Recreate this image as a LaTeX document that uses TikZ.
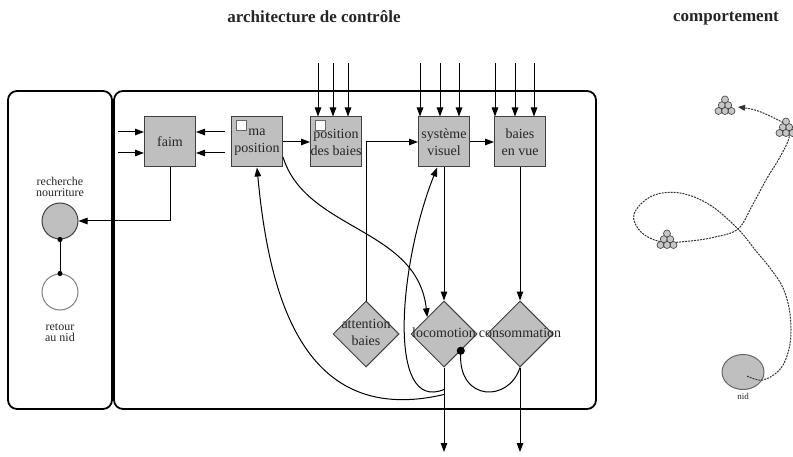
\documentclass[tikz,border=0pt]{standalone}
\usepackage{fontspec}
\setmainfont{Liberation Serif}
\usepackage{tikz}
\usetikzlibrary{arrows.meta, positioning, shapes.geometric, calc}
\newcommand{\Lbl}[1]{\makebox[0pt]{\begin{tabular}{@{}c@{}}#1\end{tabular}}}
\tikzset{
  every picture/.style={line width=1pt},
  boite/.style={draw=black!75, fill=gray!50, minimum width=51pt, minimum height=50pt, inner sep=0pt, align=center},
  losange/.style={draw=black!75, fill=gray!50, diamond, minimum size=66pt, inner sep=0pt},
  rond/.style={draw=black!75, circle, minimum size=36pt, inner sep=0pt},
  panneau/.style={draw, rounded corners=9pt, line width=1.8pt},
  carre/.style={draw=black!60, fill=white, minimum size=10pt, inner sep=0pt, anchor=north west},
  baie/.style={draw=black!70, fill=gray!45, line width=0.7pt},
  trajet/.style={draw=black!80, dash pattern=on 2pt off 1pt, line width=1pt},
  titre/.style={font=\fontsize{17}{20}\selectfont\bfseries, anchor=base},
  every node/.style={font=\fontsize{14}{17}\selectfont, text=black!85},
  every label/.append style={align=center, font=\fontsize{12}{11}\selectfont},
  baies/.pic={
    \draw[baie] (-6.5pt,-4pt) circle (3.5pt) (0pt,-4pt) circle (3.5pt) (6.5pt,-4pt) circle (3.5pt)
      (-3.2pt,1.8pt) circle (3.5pt) (3.2pt,1.8pt) circle (3.5pt) (0pt,7.5pt) circle (3.5pt);
  }
}

\begin{document}
\begin{tikzpicture}[x=1pt, y=1pt, tips=proper, >={Triangle[length=9pt,width=6.5pt]}]
    \useasboundingbox (0,0) rectangle (793,456);

    \node[titre] (titreA) at (314,433) {architecture de contrôle};
    \node[titre] (titreB) at (726,434) {comportement};

    % cadres
    \node[panneau, minimum width=104pt, minimum height=318pt] (gauche) at (60,206) {};
    \node[panneau, minimum width=482pt, minimum height=318pt] (droite) at (355,206) {};

    \node[rond, fill=gray!50, label={[label distance=2pt]above:recherche\\nourriture}] (rech) at (60,235) {};
    \node[rond, draw=black!50, fill=white, label={[label distance=9pt]below:retour\\au nid}] (retour) at (60,164) {};

    % modules
    \node[boite] (faim) at (170,314) {faim};
    \node[boite, right=35pt of faim] (mapos) {ma\\position};
    \node[boite, right=27pt of mapos] (posbaies) {position\\des baies};
    \node[boite, right=56pt of posbaies] (sysvis) {système\\visuel};
    \node[boite, right=24pt of sysvis] (baiesvue) {baies\\en vue};
    \node[carre] (carreA) at ([shift={(5pt,-4pt)}]mapos.north west) {};
    \node[carre] (carreB) at ([shift={(5pt,-4pt)}]posbaies.north west) {};

    \node[losange, below=133pt of sysvis] (loco) {\Lbl{locomotion}};
    \node[losange, below=133pt of baiesvue] (conso) {\Lbl{consommation}};
    \node[losange, left=11pt of loco] (attention) {\Lbl{attention\\baies}};

    % entrees et sorties
    \coordinate (fg1) at (118,324);
    \coordinate (fg2) at (118,303);
    \coordinate (fd1) at (225,324);
    \coordinate (fd2) at (225,303);
    \coordinate (pb1) at (318,393);
    \coordinate (pb2) at (333,393);
    \coordinate (pb3) at (348,393);
    \coordinate (sv1) at (420,393);
    \coordinate (sv2) at (440,393);
    \coordinate (sv3) at (459,393);
    \coordinate (bv1) at (495,393);
    \coordinate (bv2) at (515,393);
    \coordinate (bv3) at (534,393);
    \coordinate (bas) at (0,4);

    \draw[->] (fg1) -- (fg1 -| faim.west);
    \draw[->] (fg2) -- (fg2 -| faim.west);
    \draw[->] (fd1) -- (fd1 -| faim.east);
    \draw[->] (fd2) -- (fd2 -| faim.east);
    \draw[->] (pb1) -- (pb1 |- posbaies.north);
    \draw[->] (pb2) -- (pb2 |- posbaies.north);
    \draw[->] (pb3) -- (pb3 |- posbaies.north);
    \draw[->] (sv1) -- (sv1 |- sysvis.north);
    \draw[->] (sv2) -- (sv2 |- sysvis.north);
    \draw[->] (sv3) -- (sv3 |- sysvis.north);
    \draw[->] (bv1) -- (bv1 |- baiesvue.north);
    \draw[->] (bv2) -- (bv2 |- baiesvue.north);
    \draw[->] (bv3) -- (bv3 |- baiesvue.north);

    \draw[->] (faim.south) |- (rech.east);
    \draw(rech) edge[{Circle[length=5pt]}-{Circle[length=5pt]}, shorten <=-2.5pt, shorten >=-2.5pt] (retour);

    \draw(mapos) edge[->] (posbaies);
    \draw(sysvis) edge[->] (baiesvue);
    \draw[->] (attention.north) |- (sysvis.west);
    \draw(sysvis) edge[->] (loco);
    \draw(baiesvue) edge[->] (conso);
    \draw[->] (loco.south) -- (loco.south |- bas);
    \draw[->] (conso.south) -- (conso.south |- bas);

    \draw(mapos.-30) edge[->, controls={+(23,-74) and +(-10,90)}] (loco.north west);
    \draw([yshift=-27pt]loco.south) edge[->, controls={+(-141,-33) and +(12,-129)}] (mapos.south);
    \draw([yshift=-22pt]loco.south) edge[->, controls={+(-58,-24) and +(-38,-95)}] (sysvis.-105);
    \draw(conso.south) edge[-{Circle[length=8pt]}, shorten >=-4pt, controls={+(-11,-35) and +(-2,-51)}] (loco.south east);

    % comportement
    \node[draw=black!60, fill=gray!50, ellipse, minimum width=42pt, minimum height=35pt, inner sep=0pt,
      label={[font=\fontsize{9}{10}\selectfont, label distance=-1pt]below:nid}] (nid) at (743,84) {};
    \draw[trajet, -{Triangle[length=7pt,width=6pt]}] plot[smooth, tension=0.6] coordinates {
      (747,80) (763,76) (781,88) (790,112) (790,142) (783,168) (770,188) (756,205) (738,227)
      (710,251) (680,263) (652,260) (634,242) (641,224) (662,214) (690,215) (715,219) (738,227)
      (752,250) (766,276) (780,299) (789,318) (787,330) (772,339) (755,346) (738,349)};
    \pic at (725,349) {baies};
    \pic at (786,327) {baies};
    \pic at (667,215) {baies};
\end{tikzpicture}
\end{document}
